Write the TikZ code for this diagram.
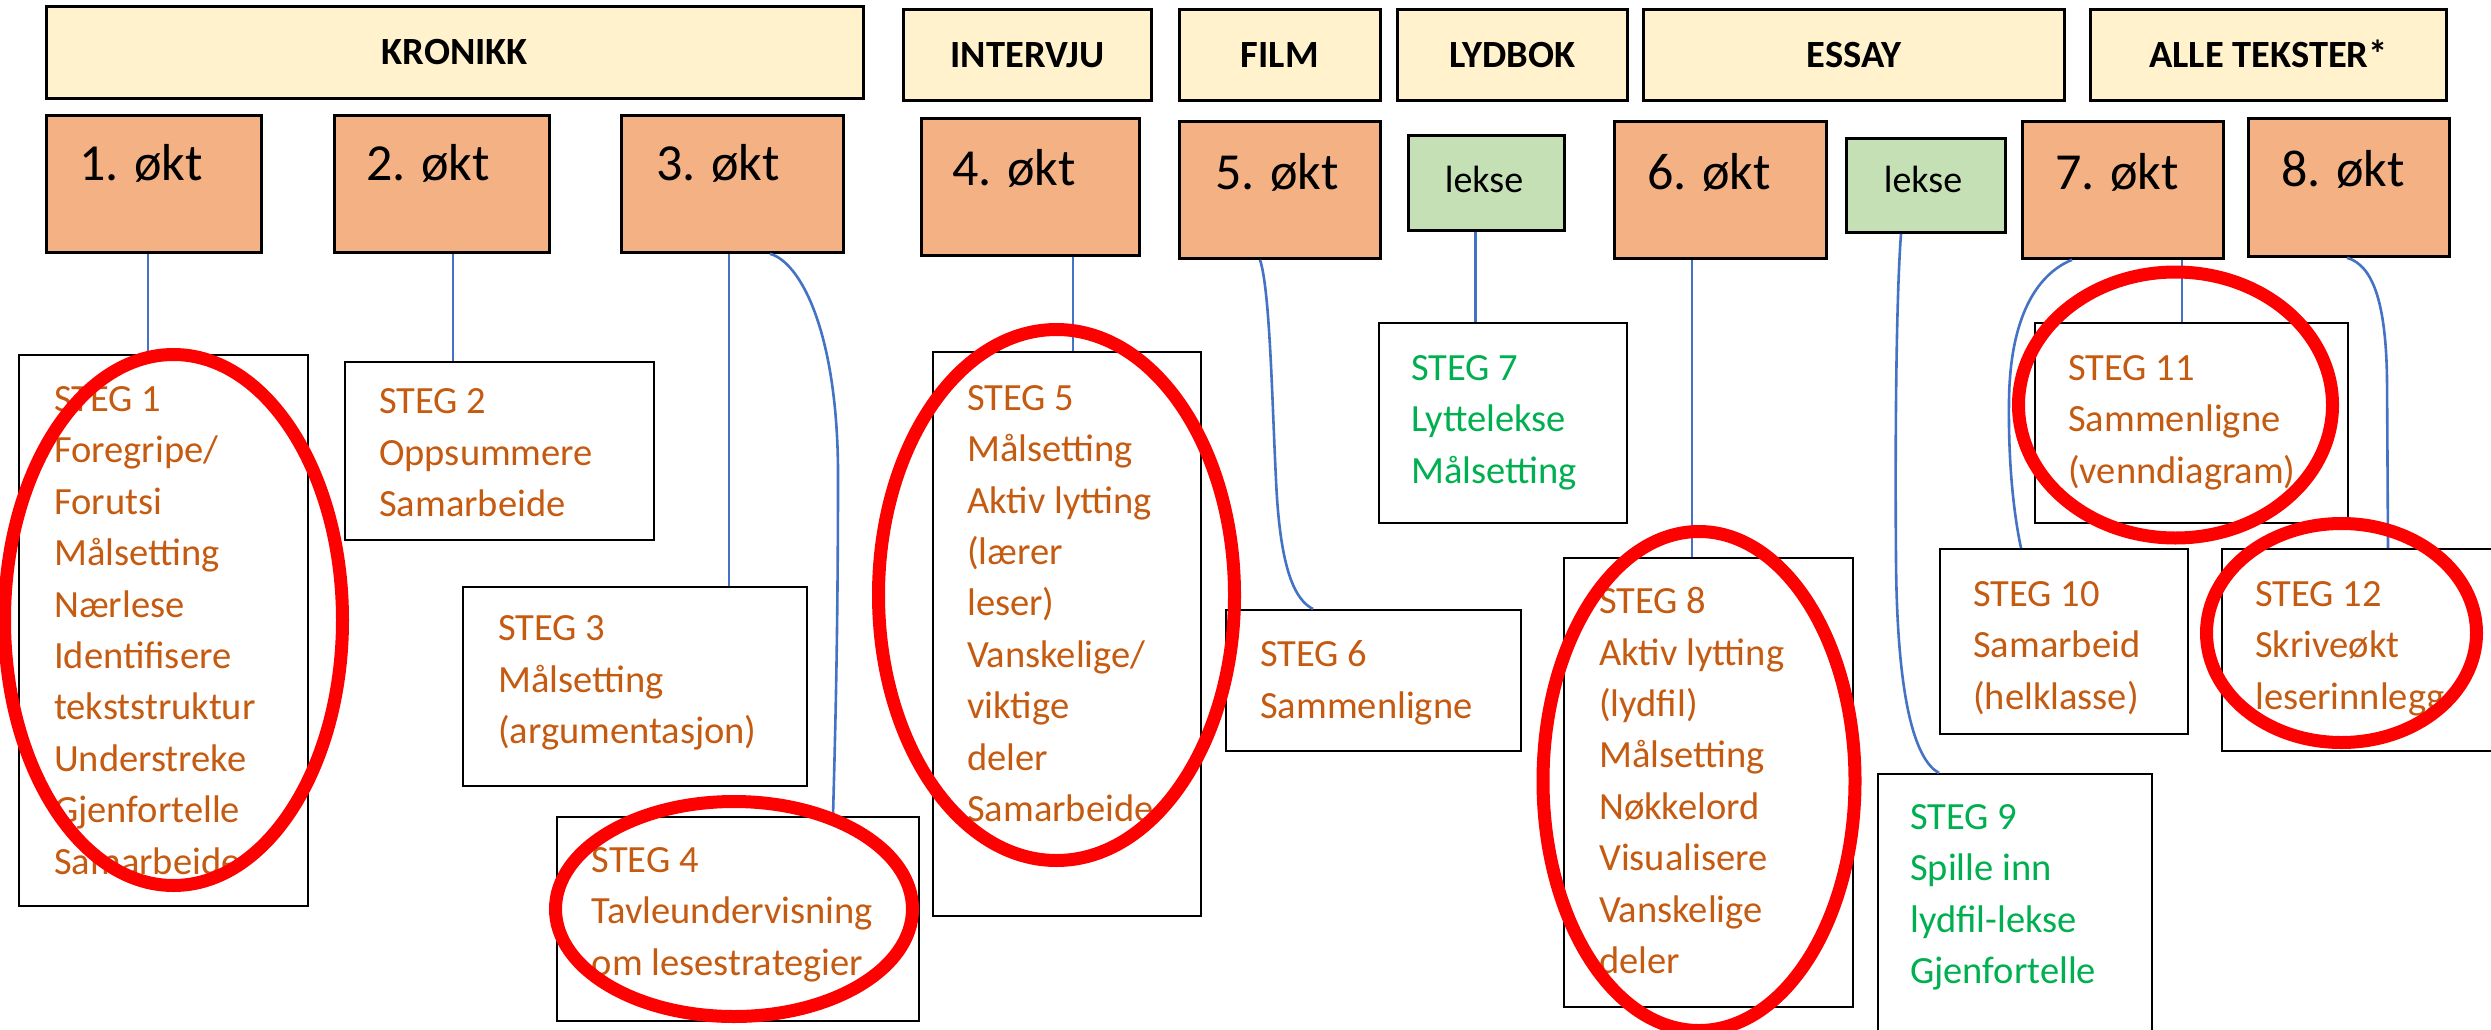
\documentclass[tikz,border=0pt]{standalone}
\usepackage{fontspec}
\setmainfont{Carlito}
\definecolor{hdrfill}{HTML}{FFF2CC}
\definecolor{oktfill}{HTML}{F4B183}
\definecolor{leksefill}{HTML}{C5E0B4}
\definecolor{connblue}{HTML}{4472C4}
\definecolor{stegorange}{HTML}{C55A11}
\definecolor{steggreen}{HTML}{00B050}
\definecolor{ringred}{HTML}{FF0000}
\begin{document}
\begin{tikzpicture}[x=1pt,y=-1pt,
  hdrbox/.style={draw=black, line width=2.8pt, fill=hdrfill, inner sep=0pt, anchor=north west, text height=24.8pt, text depth=0pt, font=\fontsize{38.5}{46}\selectfont\bfseries},
  oktbox/.style={draw=black, line width=2.8pt, fill=oktfill, inner sep=0pt, anchor=north west},
  leksebox/.style={draw=black, line width=2.8pt, fill=leksefill, inner sep=0pt, anchor=north west},
  stegbox/.style={draw=black, line width=2.2pt, inner sep=0pt, anchor=north west},
  okttxt/.style={anchor=base west, inner sep=0pt, font=\fontsize{52}{60}\selectfont},
  leksetxt/.style={anchor=base, inner sep=0pt, font=\fontsize{38}{44}\selectfont},
  stegtxt/.style={anchor=north west, inner sep=0pt, align=left, font=\fontsize{38.5}{51.4}\selectfont, text=stegorange},
  greentxt/.style={stegtxt, text=steggreen},
  conn/.style={draw=connblue, line width=2.6pt},
  ring/.style={draw=ringred, line width=13pt}
]
\useasboundingbox (0,0) rectangle (2491,1030);
\fill[white] (0,0) rectangle (2491,1030);

% headers
\node[hdrbox, minimum width=817pt, minimum height=92pt] (hkron) at (45,5) {KRONIKK};
\node[hdrbox, minimum width=248pt, minimum height=91pt] (hint) at (902,8) {INTERVJU};
\node[hdrbox, minimum width=201pt, minimum height=91pt] (hfilm) at (1178,8) {FILM};
\node[hdrbox, minimum width=230pt, minimum height=91pt] (hlyd) at (1396,8) {LYDBOK};
\node[hdrbox, minimum width=421pt, minimum height=91pt] (hess) at (1642,8) {ESSAY};
\node[hdrbox, minimum width=356pt, minimum height=91pt] (halle) at (2089,8) {ALLE TEKSTER*};

% sessions
\node[oktbox, minimum width=215pt, minimum height=137pt] (o1) at (45,114) {};
\node[oktbox, minimum width=215pt, minimum height=137pt] (o2) at (333,114) {};
\node[oktbox, minimum width=222pt, minimum height=137pt] (o3) at (620,114) {};
\node[oktbox, minimum width=218pt, minimum height=137pt] (o4) at (920,117) {};
\node[oktbox, minimum width=201pt, minimum height=137pt] (o5) at (1178,120) {};
\node[leksebox, minimum width=156pt, minimum height=95pt] (l1) at (1407,134) {};
\node[oktbox, minimum width=212pt, minimum height=137pt] (o6) at (1613,120) {};
\node[leksebox, minimum width=159pt, minimum height=94pt] (l2) at (1845,137) {};
\node[oktbox, minimum width=201pt, minimum height=137pt] (o7) at (2021,120) {};
\node[oktbox, minimum width=201pt, minimum height=138pt] (o8) at (2247,117) {};

\node[okttxt] (o1t) at (79,180) {1. økt};
\node[okttxt] (o2t) at (366,180) {2. økt};
\node[okttxt] (o3t) at (656,180) {3. økt};
\node[okttxt] (o4t) at (952,185) {4. økt};
\node[okttxt] (o5t) at (1215,189) {5. økt};
\node[okttxt] (o6t) at (1647,189) {6. økt};
\node[okttxt] (o7t) at (2055,189) {7. økt};
\node[okttxt] (o8t) at (2281,186) {8. økt};
\node[leksetxt] (l1t) at (1484,192) {lekse};
\node[leksetxt] (l2t) at (1923,192) {lekse};

% steps
\node[stegbox, minimum width=289pt, minimum height=551pt] (s1) at (18,354) {};
\node[stegbox, minimum width=309pt, minimum height=178.5pt] (s2) at (344,360.5) {};
\node[stegbox, minimum width=344pt, minimum height=199pt] (s3) at (462,586) {};
\node[stegbox, minimum width=361.5pt, minimum height=204pt] (s4) at (556,816) {};
\node[stegbox, minimum width=267.5pt, minimum height=564pt] (s5) at (932,351) {};
\node[stegbox, minimum width=295pt, minimum height=141pt] (s6) at (1225,609) {};
\node[stegbox, minimum width=247.5pt, minimum height=200pt] (s7) at (1378,322) {};
\node[stegbox, minimum width=288.5pt, minimum height=449pt] (s8) at (1563,556.5) {};
\node[stegbox, minimum width=274pt, minimum height=280pt] (s9) at (1877,773) {};
\node[stegbox, minimum width=248pt, minimum height=184.5pt] (s10) at (1939,548) {};
\node[stegbox, minimum width=313pt, minimum height=200pt] (s11) at (2034,322) {};
\node[stegbox, minimum width=290pt, minimum height=202pt] (s12) at (2220.6,548) {};

\node[stegtxt] (s1t) at (54,386.4) {STEG 1\\Foregripe/\\Forutsi\\Målsetting\\Nærlese\\Identifisere\\tekststruktur\\Understreke\\Gjenfortelle\\Samarbeide};
\node[stegtxt] (s2t) at (379,388.7) {STEG 2\\Oppsummere\\Samarbeide};
\node[stegtxt] (s3t) at (498,615.7) {STEG 3\\Målsetting\\(argumentasjon)};
\node[stegtxt] (s4t) at (591.6,847.2) {STEG 4\\Tavleundervisning\\om lesestrategier};
\node[stegtxt] (s5t) at (967,385.2) {STEG 5\\Målsetting\\Aktiv lytting\\(lærer\\leser)\\Vanskelige/\\viktige\\deler\\Samarbeide};
\node[stegtxt] (s6t) at (1260,640.7) {STEG 6\\Sammenligne};
\node[greentxt] (s7t) at (1411,355.2) {STEG 7\\Lyttelekse\\Målsetting};
\node[stegtxt] (s8t) at (1599,587.2) {STEG 8\\Aktiv lytting\\(lydfil)\\Målsetting\\Nøkkelord\\Visualisere\\Vanskelige\\deler};
\node[greentxt] (s9t) at (1910,804.2) {STEG 9\\Spille inn\\lydfil-lekse\\Gjenfortelle};
\node[stegtxt] (s10t) at (1973,581.2) {STEG 10\\Samarbeid\\(helklasse)};
\node[stegtxt] (s11t) at (2068,355.2) {STEG 11\\Sammenligne\\(venndiagram)};
\node[stegtxt] (s12t) at (2255,581.2) {STEG 12\\Skriveøkt\\leserinnlegg};

% connectors
\draw[conn] (o1.south -| 148,0) -- (s1.north -| 148,0);
\draw[conn] (o2.south -| 453,0) -- (s2.north -| 453,0);
\draw[conn] (o3.south -| 729,0) -- (s3.north -| 729,0);
\draw[conn] (o4.south -| 1073,0) -- (s5.north -| 1073,0);
\draw[conn] (l1.south -| 1475.5,0) -- (s7.north -| 1475.5,0);
\draw[conn] (o6.south -| 1692,0) -- (s8.north -| 1692,0);
\draw[conn] (o7.south -| 2182,0) -- (s11.north -| 2182,0);
\draw[conn] (o3.south -| 770,0) .. controls (800,262) and (837,330) .. (838,470) .. controls (838,640) and (835,740) .. (s4.north -| 833,0);
\draw[conn] (o5.south -| 1260,0) .. controls (1270,290) and (1272,400) .. (1276,480) .. controls (1280,570) and (1295,600) .. (s6.north -| 1313,0);
\draw[conn] (l2.south -| 1901,0) .. controls (1896,300) and (1895,450) .. (1896,560) .. controls (1897,700) and (1915,760) .. (s9.north -| 1939,0);
\draw[conn] (o7.south -| 2072,0) .. controls (2035,275) and (2010,320) .. (2009,400) .. controls (2008,470) and (2015,520) .. (s10.north -| 2021,0);
\draw[conn] (o8.south -| 2347,0) .. controls (2372,265) and (2386,300) .. (2387,380) -- (s12.north -| 2388,0);

% red rings
\draw[ring] (173.5,620) ellipse [x radius=169pt, y radius=265.5pt];
\draw[ring] (734,909) ellipse [x radius=178.5pt, y radius=107.5pt];
\draw[ring] (1056.5,595) ellipse [x radius=178pt, y radius=265.5pt];
\draw[ring] (1699,781) ellipse [x radius=156pt, y radius=249.5pt];
\draw[ring] (2175.5,405) ellipse [x radius=157pt, y radius=133pt];
\draw[ring] (2341.5,633) ellipse [x radius=135pt, y radius=109.5pt];
\end{tikzpicture}
\end{document}
